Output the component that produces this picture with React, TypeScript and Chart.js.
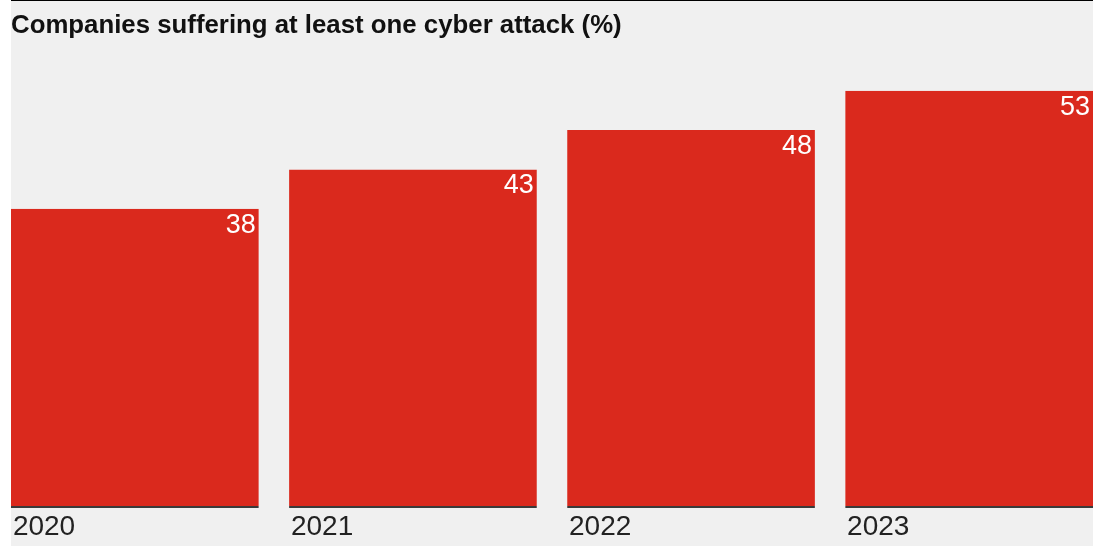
import React, { useEffect, useRef } from "react";
import { Chart, registerables } from "chart.js";

Chart.register(...registerables);

const years: string[] = ["2020", "2021", "2022", "2023"];
const attackShare: number[] = [38, 43, 48, 53];
const titleText = "Companies suffering at least one cyber attack (%)";

const RED = "#da291d";
const BG = "#f0f0f0";

const valueLabels = {
  id: "valueLabels",
  afterDatasetsDraw(chart: any) {
    const ctx = chart.ctx;
    const meta = chart.getDatasetMeta(0);
    ctx.save();
    ctx.fillStyle = "#ffffff";
    ctx.font = "300 27px 'Liberation Sans', Arial, sans-serif";
    ctx.textAlign = "right";
    ctx.textBaseline = "alphabetic";
    meta.data.forEach((bar: any, i: number) => {
      const right = bar.x + bar.width / 2 - 3;
      ctx.fillText(String(attackShare[i]), right, bar.y + 24);
    });
    ctx.restore();
  },
};

export default function App() {
  const ref = useRef<HTMLCanvasElement | null>(null);
  useEffect(() => {
    if (!ref.current) return;
    const barFrac = 248 / 278.3;
    const chart = new Chart(ref.current, {
      type: "bar",
      data: {
        datasets: [
          {
            data: attackShare.map((v, i) => ({ x: i, y: v })),
            backgroundColor: RED,
            borderColor: "#3a3a3a",
            borderWidth: { top: 0, left: 0, right: 0, bottom: 2 },
            borderSkipped: false,
            barPercentage: barFrac,
            categoryPercentage: 1,
          },
        ],
      },
      options: {
        animation: false,
        responsive: true,
        maintainAspectRatio: false,
        layout: { padding: { left: 0, right: 0, top: 0, bottom: 0 } },
        plugins: {
          legend: { display: false },
          tooltip: { enabled: false },
          title: {
            display: true,
            text: titleText,
            align: "start",
            color: "#111111",
            font: { family: "'Liberation Sans', Arial, sans-serif", size: 25.8, weight: "bold" },
            padding: { top: 9, bottom: 8 },
          },
        },
        scales: {
          x: {
            type: "linear",
            offset: false,
            min: -barFrac / 2,
            max: years.length - 1 + barFrac / 2,
            afterBuildTicks: (scale: any) => {
              scale.ticks = years.map((_, i) => ({ value: i }));
            },
            grid: { display: false, drawTicks: false },
            border: { display: false },
            ticks: {
              autoSkip: false,
              maxRotation: 0,
              align: "start",
              labelOffset: -122,
              padding: 3,
              color: "#222222",
              font: { family: "'Liberation Sans', Arial, sans-serif", size: 28, lineHeight: 1.147 },
              callback: (v: any) => years[v as number] ?? "",
            },
          },
          y: {
            display: false,
            min: 0,
            max: 58.3,
          },
        },
      },
      plugins: [valueLabels],
    } as any);
    return () => chart.destroy();
  }, []);

  return (
    <div
      style={{
        position: "absolute",
        left: 11,
        top: 0,
        width: 1082,
        height: 545,
        background: BG,
        borderTop: "1px solid #000",
      }}
    >
      <div style={{ position: "relative", width: 1082, height: 545 }}>
        <canvas ref={ref} />
      </div>
    </div>
  );
}
